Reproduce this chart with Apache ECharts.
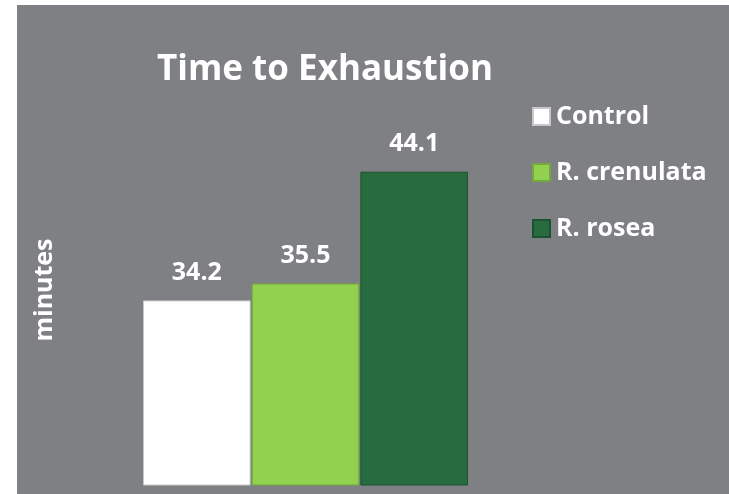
<!DOCTYPE html>
<html>
<head>
<meta charset="utf-8">
<script src="https://cdn.jsdelivr.net/npm/echarts@6/dist/echarts.min.js"></script>
<style>
  html, body { margin: 0; padding: 0; background: #ffffff; }
  #main { width: 729px; height: 494px; }
</style>
</head>
<body>
<div id="main"></div>
<script>
// data
var categories = ['Time to Exhaustion'];
var seriesNames = ['Control', 'R. crenulata', 'R. rosea'];
var controlValues = [34.2];
var crenulataValues = [35.5];
var roseaValues = [44.1];

var colors = ['#ffffff', '#92d050', '#276b3f'];
var borders = ['#c8c8c8', '#74a83a', '#1b5230'];
var font = '"Open Sans", "Noto Sans", sans-serif';

var myChart = echarts.init(document.getElementById('main'));

function barSeries(name, values, i) {
    return {
        name: name,
        type: 'bar',
        data: values,
        barGap: '1%',
        barCategoryGap: '0%',
        itemStyle: { color: colors[i], borderColor: borders[i], borderWidth: 1 },
        label: {
            show: true,
            position: 'top',
            distance: 15,
            color: '#ffffff',
            fontFamily: font,
            fontWeight: 'bold',
            fontSize: 25,
            formatter: function (p) { return p.value.toFixed(1); }
        }
    };
}

myChart.setOption({
    backgroundColor: '#ffffff',
    animation: false,
    graphic: [{
        type: 'rect',
        left: 17, top: 5, z: -10,
        shape: { width: 712, height: 489 },
        style: { fill: '#7f8084' }
    }],
    title: {
        text: 'Time to Exhaustion',
        left: 152,
        top: 48,
        textStyle: { color: '#ffffff', fontFamily: font, fontWeight: 'bold', fontSize: 35 }
    },
    legend: {
        orient: 'vertical',
        left: 527,
        top: 99,
        itemWidth: 17,
        itemHeight: 17,
        itemGap: 31,
        icon: 'rect',
        data: seriesNames,
        textStyle: { color: '#ffffff', fontFamily: font, fontWeight: 'bold', fontSize: 25, padding: [0, 0, 0, 1] }
    },
    grid: { left: 143, width: 325, top: 95, bottom: 9, containLabel: false },
    xAxis: {
        type: 'category',
        data: categories,
        show: false
    },
    yAxis: {
        type: 'value',
        min: 20,
        max: 50,
        name: 'minutes',
        nameLocation: 'middle',
        nameGap: 86,
        nameTextStyle: { color: '#ffffff', fontFamily: font, fontWeight: 'bold', fontSize: 25 },
        axisLine: { show: false },
        axisTick: { show: false },
        axisLabel: { show: false },
        splitLine: { show: false }
    },
    series: [
        barSeries(seriesNames[0], controlValues, 0),
        barSeries(seriesNames[1], crenulataValues, 1),
        barSeries(seriesNames[2], roseaValues, 2)
    ]
});
</script>
</body>
</html>
